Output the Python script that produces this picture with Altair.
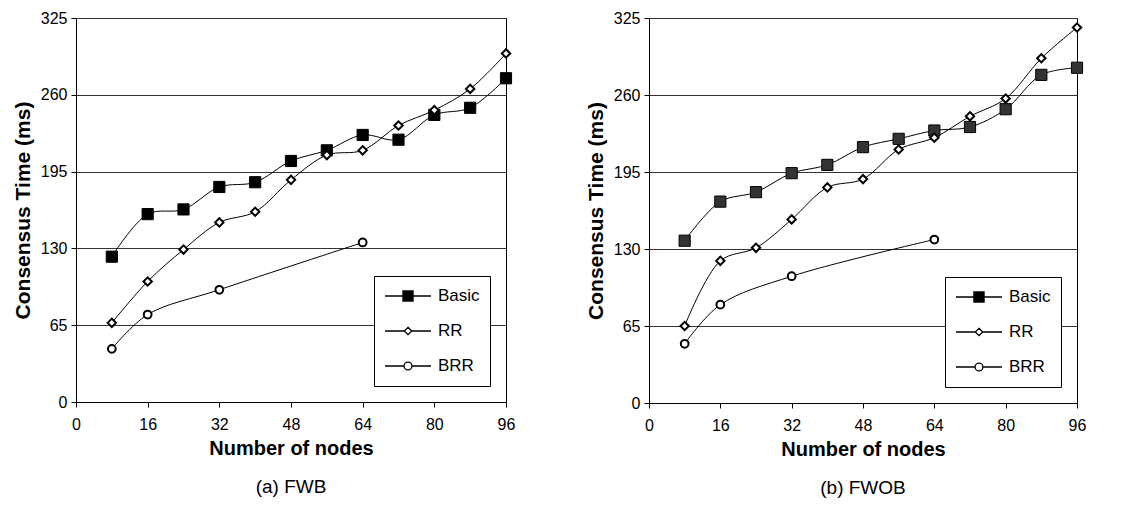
import altair as alt
import pandas as pd

# ---- data ----
series = ["Basic", "RR", "BRR"]
nodes_all = [8, 16, 24, 32, 40, 48, 56, 64, 72, 80, 88, 96]
nodes_brr = [8, 16, 32, 64]

fwb_basic = [123, 159, 163, 182, 186, 204, 213, 226, 222, 243, 249, 274]
fwb_rr = [67, 102, 129, 152, 161, 188, 209, 213, 234, 247, 265, 295]
fwb_brr = [45, 74, 95, 135]

fwob_basic = [137, 170, 178, 194, 201, 216, 223, 230, 233, 248, 277, 283]
fwob_rr = [65, 120, 131, 155, 182, 189, 214, 224, 242, 257, 291, 317]
fwob_brr = [50, 83, 107, 138]

x_ticks = [0, 16, 32, 48, 64, 80, 96]
y_ticks = [0, 65, 130, 195, 260, 325]

captions = ["(a) FWB", "(b) FWOB"]

FONT = "Liberation Sans"

# legend symbols: line + marker, in the unit [-1, 1] coordinate system
_hatch = "".join("M-0.22,%.2fH0.22" % (-0.2 + 0.04 * i) for i in range(11))
legend_paths = [
    "M-1,0H1M-0.22,-0.22H0.22V0.22H-0.22Z" + _hatch,
    "M-1,0H-0.16M0.16,0H1M0,-0.16L0.16,0L0,0.16L-0.16,0Z",
    "M-1,0H-0.17M0.17,0H1M0.17,0A0.17,0.17,0,1,1,-0.17,0A0.17,0.17,0,1,1,0.17,0Z",
]


def make_df(basic, rr, brr):
    rows = []
    for n, v in zip(nodes_all, basic):
        rows.append({"nodes": n, "time": v, "series": "Basic"})
    for n, v in zip(nodes_all, rr):
        rows.append({"nodes": n, "time": v, "series": "RR"})
    for n, v in zip(nodes_brr, brr):
        rows.append({"nodes": n, "time": v, "series": "BRR"})
    return pd.DataFrame(rows)


def panel(df, caption, basic_fill, w, h):
    x = alt.X(
        "nodes:Q",
        scale=alt.Scale(domain=[0, 96], nice=False),
        axis=alt.Axis(
            values=x_ticks, title="Number of nodes", grid=False, labelFlush=False,
            tickSize=5, labelPadding=9, titlePadding=6, titleFontSize=20,
        ),
    )
    y = alt.Y(
        "time:Q",
        scale=alt.Scale(domain=[0, 325], nice=False),
        axis=alt.Axis(
            values=y_ticks, title="Consensus Time (ms)", grid=True, labelFlush=False,
            gridColor="#333333", gridWidth=1, gridOpacity=1,
            tickSize=5, labelPadding=4, titlePadding=7, titleFontSize=21,
        ),
    )
    base = alt.Chart(df).encode(x=x, y=y)
    lines = base.mark_line(
        color="black", strokeWidth=1, interpolate="catmull-rom"
    ).encode(detail="series:N")
    sq = base.transform_filter(alt.datum.series == "Basic").mark_point(
        shape="square", filled=True, fill=basic_fill, stroke="black",
        strokeWidth=1, size=125, opacity=1,
    )
    dm = base.transform_filter(alt.datum.series == "RR").mark_point(
        shape="diamond", filled=True, fill="white", stroke="black",
        strokeWidth=2, size=70, opacity=1,
    )
    ci = base.transform_filter(alt.datum.series == "BRR").mark_point(
        shape="circle", filled=True, fill="white", stroke="black",
        strokeWidth=2, size=60, opacity=1,
    )
    leg_def = alt.Legend(
        title=None, orient="bottom-right", offset=16,
        fillColor="white", strokeColor="black", padding=10,
        labelFont=FONT, labelFontSize=17, labelColor="black", labelOffset=6,
        symbolSize=2116, symbolStrokeColor="black", symbolStrokeWidth=1.3,
        symbolOpacity=1, clipHeight=20, rowPadding=15,
    )
    leg = base.mark_point(
        filled=False, opacity=0, color="black", strokeWidth=1.3
    ).encode(
        shape=alt.Shape("series:N", scale=alt.Scale(domain=series, range=legend_paths), legend=leg_def),
    )
    return alt.layer(lines, sq, dm, ci, leg).properties(
        width=w, height=h,
        title=alt.Title(
            caption, orient="bottom", anchor="middle", frame="group",
            font=FONT, fontSize=19, fontWeight="normal", color="black", offset=20,
        ),
    )


left = panel(make_df(fwb_basic, fwb_rr, fwb_brr), captions[0], "black", 430, 384)
right = panel(make_df(fwob_basic, fwob_rr, fwob_brr), captions[1], "#333333", 428, 385)

chart = (
    alt.hconcat(left, right, spacing=68)
    .resolve_scale(shape="independent")
    .resolve_legend(shape="independent")
    .properties(padding={"left": 3, "top": 1, "right": 5, "bottom": 5})
    .configure_view(stroke="black", strokeWidth=1)
    .configure_axis(
        domainColor="black", tickColor="black",
        labelFont=FONT, labelFontSize=16, labelColor="black",
        titleFont=FONT, titleFontWeight="bold", titleColor="black",
    )
)

chart.save("out.html", embed_options={"renderer": "svg", "actions": False})
